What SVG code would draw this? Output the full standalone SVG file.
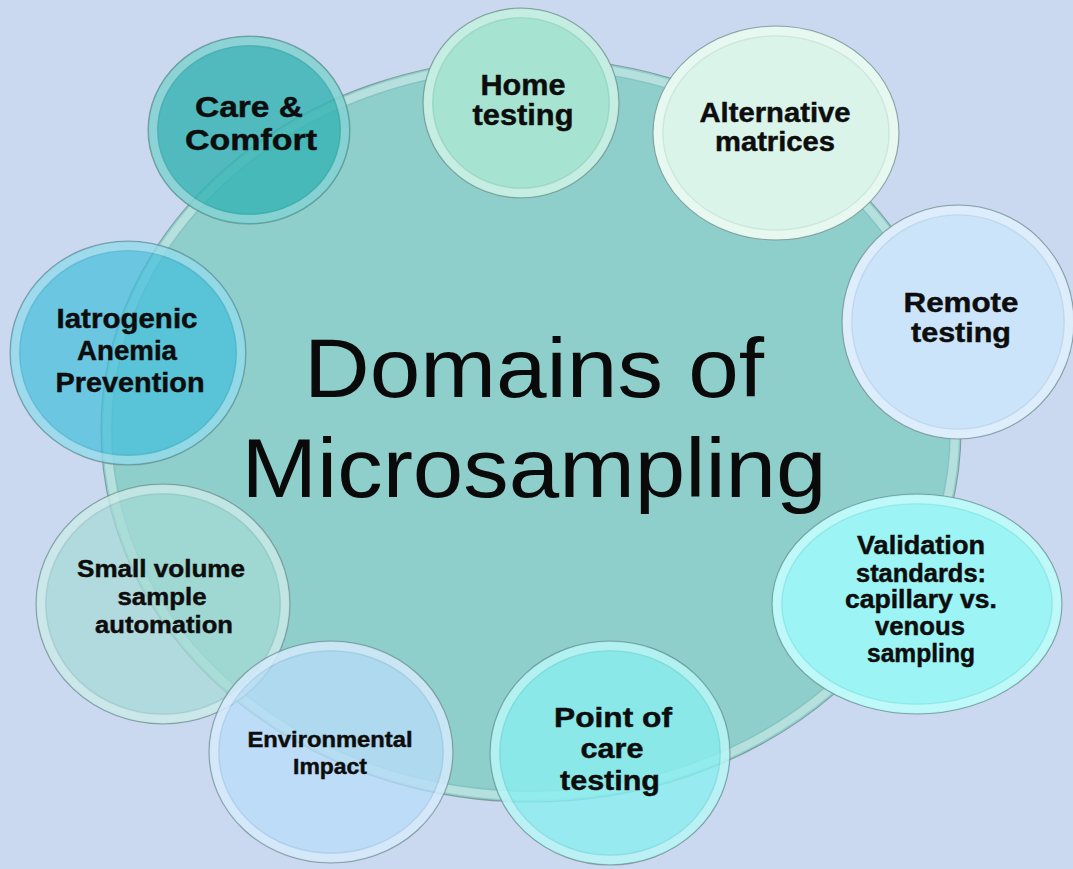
<svg xmlns="http://www.w3.org/2000/svg" width="1073" height="869" viewBox="0 0 1073 869">
<style>
.edge{stroke:#718a8a;stroke-opacity:0.75;stroke-width:1.1}
.band{fill:none;stroke:#ffffff;stroke-opacity:0.35;stroke-width:8}
.inner{fill:none;stroke:#000000;stroke-opacity:0.06;stroke-width:1.2}
.lbl{font-family:"Liberation Sans",Arial,sans-serif;font-weight:bold;fill:#0d0d0d;stroke:#0d0d0d;stroke-width:0.45;text-anchor:middle}
.title{font-family:"Liberation Sans",Arial,sans-serif;font-size:84px;fill:#0a0a0a;text-anchor:middle}
</style>
<rect width="1073" height="869" fill="#cad9ef"/>
<g id="center">
  <ellipse cx="531" cy="430" rx="430" ry="372" fill="#8ecfcc" class="edge"/>
  <ellipse cx="531" cy="430" rx="424" ry="366" class="band" stroke-opacity="0.25"/>
  <ellipse cx="531" cy="430" rx="419" ry="361" class="inner"/>
  <text class="title" x="534" y="397" textLength="460" lengthAdjust="spacingAndGlyphs">Domains of</text>
  <text class="title" x="534" y="497" textLength="585" lengthAdjust="spacingAndGlyphs">Microsampling</text>
</g>
<g id="connectors"/>
<g id="care-comfort">
  <ellipse cx="249" cy="130" rx="101" ry="94" fill="#36b3b3" fill-opacity="0.82" class="edge"/>
  <ellipse cx="249" cy="130" rx="96" ry="89" class="band"/>
  <ellipse cx="249" cy="130" rx="91" ry="84" class="inner"/>
  <text class="lbl" font-size="29.5" x="249" y="117" textLength="108" lengthAdjust="spacingAndGlyphs">Care &amp;</text>
  <text class="lbl" font-size="29.5" x="251" y="150" textLength="132" lengthAdjust="spacingAndGlyphs">Comfort</text>
</g>
<g id="home-testing">
  <ellipse cx="521" cy="103" rx="98" ry="95" fill="#a6e3d1" class="edge"/>
  <ellipse cx="521" cy="103" rx="93" ry="90" class="band"/>
  <ellipse cx="521" cy="103" rx="88" ry="85" class="inner"/>
  <text class="lbl" font-size="29" x="523" y="95" textLength="85" lengthAdjust="spacingAndGlyphs">Home</text>
  <text class="lbl" font-size="29" x="523" y="125" textLength="101" lengthAdjust="spacingAndGlyphs">testing</text>
</g>
<g id="alternative-matrices">
  <ellipse cx="776" cy="133" rx="123" ry="107" fill="#daf4ea" class="edge"/>
  <ellipse cx="776" cy="133" rx="118" ry="102" class="band" stroke-opacity="0.7"/>
  <ellipse cx="776" cy="133" rx="113" ry="97" class="inner"/>
  <text class="lbl" font-size="27" x="775" y="122" textLength="151" lengthAdjust="spacingAndGlyphs">Alternative</text>
  <text class="lbl" font-size="27" x="775" y="151" textLength="120" lengthAdjust="spacingAndGlyphs">matrices</text>
</g>
<g id="remote-testing">
  <ellipse cx="958" cy="322" rx="116" ry="117" fill="#cce4f9" class="edge"/>
  <ellipse cx="958" cy="322" rx="111" ry="112" class="band" stroke-opacity="0.55"/>
  <ellipse cx="958" cy="322" rx="106" ry="107" class="inner"/>
  <text class="lbl" font-size="28" x="961" y="312" textLength="115" lengthAdjust="spacingAndGlyphs">Remote</text>
  <text class="lbl" font-size="28" x="961" y="342" textLength="100" lengthAdjust="spacingAndGlyphs">testing</text>
</g>
<g id="iatrogenic-anemia">
  <ellipse cx="128" cy="353" rx="118" ry="112" fill="#45bedb" fill-opacity="0.72" class="edge"/>
  <ellipse cx="128" cy="353" rx="113" ry="107" class="band"/>
  <ellipse cx="128" cy="353" rx="108" ry="102" class="inner"/>
  <text class="lbl" font-size="28" x="127" y="328" textLength="141" lengthAdjust="spacingAndGlyphs">Iatrogenic</text>
  <text class="lbl" font-size="28" x="127" y="360" textLength="100" lengthAdjust="spacingAndGlyphs">Anemia</text>
  <text class="lbl" font-size="28" x="130" y="392" textLength="149" lengthAdjust="spacingAndGlyphs">Prevention</text>
</g>
<g id="small-volume">
  <ellipse cx="163" cy="604" rx="127" ry="120" fill="#a6dad6" fill-opacity="0.72" class="edge"/>
  <ellipse cx="163" cy="604" rx="122" ry="115" class="band"/>
  <ellipse cx="163" cy="604" rx="117" ry="110" class="inner"/>
  <text class="lbl" font-size="24.5" x="161" y="577" textLength="168" lengthAdjust="spacingAndGlyphs">Small volume</text>
  <text class="lbl" font-size="24.5" x="162" y="605" textLength="89" lengthAdjust="spacingAndGlyphs">sample</text>
  <text class="lbl" font-size="24.5" x="164" y="633" textLength="138" lengthAdjust="spacingAndGlyphs">automation</text>
</g>
<g id="environmental-impact">
  <ellipse cx="331" cy="752" rx="122" ry="111" fill="#b8dcfa" fill-opacity="0.75" class="edge"/>
  <ellipse cx="331" cy="752" rx="117" ry="106" class="band"/>
  <ellipse cx="331" cy="752" rx="112" ry="101" class="inner"/>
  <text class="lbl" font-size="22" x="330" y="747" textLength="165" lengthAdjust="spacingAndGlyphs">Environmental</text>
  <text class="lbl" font-size="22" x="330" y="774" textLength="74" lengthAdjust="spacingAndGlyphs">Impact</text>
</g>
<g id="point-of-care">
  <ellipse cx="610" cy="753" rx="120" ry="112" fill="#8aeef0" fill-opacity="0.8" class="edge"/>
  <ellipse cx="610" cy="753" rx="115" ry="107" class="band"/>
  <ellipse cx="610" cy="753" rx="110" ry="102" class="inner"/>
  <text class="lbl" font-size="28.5" x="613" y="727" textLength="118" lengthAdjust="spacingAndGlyphs">Point of</text>
  <text class="lbl" font-size="28.5" x="612" y="758" textLength="63" lengthAdjust="spacingAndGlyphs">care</text>
  <text class="lbl" font-size="28.5" x="610" y="790" textLength="100" lengthAdjust="spacingAndGlyphs">testing</text>
</g>
<g id="validation-standards">
  <ellipse cx="917" cy="604" rx="145" ry="110" fill="#9cf4f4" class="edge"/>
  <ellipse cx="917" cy="604" rx="140" ry="105" class="band"/>
  <ellipse cx="917" cy="604" rx="135" ry="100" class="inner"/>
  <text class="lbl" font-size="25" x="921" y="554" textLength="128" lengthAdjust="spacingAndGlyphs">Validation</text>
  <text class="lbl" font-size="25" x="921" y="582" textLength="130" lengthAdjust="spacingAndGlyphs">standards:</text>
  <text class="lbl" font-size="25" x="921" y="608" textLength="152" lengthAdjust="spacingAndGlyphs">capillary vs.</text>
  <text class="lbl" font-size="25" x="920" y="635" textLength="90" lengthAdjust="spacingAndGlyphs">venous</text>
  <text class="lbl" font-size="25" x="921" y="662" textLength="108" lengthAdjust="spacingAndGlyphs">sampling</text>
</g>
</svg>
